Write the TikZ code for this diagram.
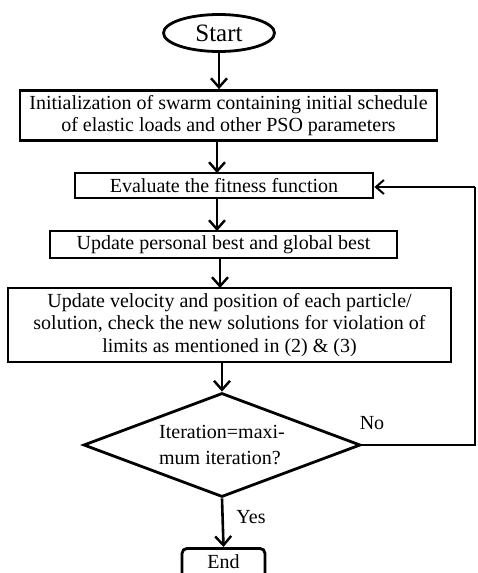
\documentclass[tikz,border=0pt]{standalone}
\usepackage{fontspec}
\setmainfont{Liberation Serif}
\usetikzlibrary{shapes.geometric,arrows.meta}
\begin{document}
\begin{tikzpicture}[x=1pt,y=-1pt,
  procbox/.style={draw, line width=2.8pt, inner sep=0pt, align=center, font=\fontsize{20}{22.5}\selectfont},
  flow/.style={line width=2.6pt, -{Straight Barb[length=9pt,width=16pt,line width=2.4pt]}},
  back/.style={line width=1.6pt, -{Straight Barb[length=8pt,width=14pt,line width=2pt]}},
  lbl/.style={font=\fontsize{20}{22}\selectfont, inner sep=0pt}]
\useasboundingbox (0,0) rectangle (477,573);
\node[draw, ellipse, line width=2.8pt, minimum width=111pt, minimum height=37pt, inner sep=0pt, font=\fontsize{25}{28}\selectfont] (start) at (219,33) {Start};
\node[procbox, minimum width=417pt, minimum height=50pt] (b1) at (228.5,115.5) {Initialization of swarm containing initial schedule\\of elastic loads and other PSO parameters};
\node[procbox, minimum width=298pt, minimum height=25pt] (b2) at (224,185.5) {Evaluate the fitness function};
\node[procbox, minimum width=347pt, minimum height=27pt] (b3) at (223.5,244.5) {Update personal best and global best};
\node[procbox, minimum width=443pt, minimum height=74pt] (b4) at (229.5,325) {Update velocity and position of each particle/\\solution, check the new solutions for violation of\\limits as mentioned in (2) \& (3)};
\node[draw, diamond, aspect=2.66, line width=2.8pt, minimum width=277pt, minimum height=104pt, inner sep=0pt, align=left, font=\fontsize{20}{26}\selectfont] (dec) at (222,445) {Iteration=maxi-\\mum iteration?};
\node[draw, rounded corners=5pt, line width=2.8pt, minimum width=83pt, inner sep=0pt, text height=20pt, text depth=20pt, font=\fontsize{20}{22}\selectfont, anchor=north] (end) at (223.5,547) {End};
\coordinate (c1) at (475,445);
\coordinate (c2) at (475,187);
\draw[flow] (start.south) -- (start.south |- b1.north);
\draw[flow] (217,140.5) -- (217,173);
\draw[flow] (217,198) -- (217,231);
\draw[flow] (220,258) -- (220,288);
\draw[flow] (222,362) -- (dec.north);
\draw[flow] (dec.south) -- (end.north);
\draw[line width=1.6pt] (dec.east) -- (c1) -- (c2);
\draw[back] (c2) -- (b2.east |- c2);
\node[lbl] (no) at (372,423) {No};
\node[lbl] (yes) at (251,517) {Yes};
\end{tikzpicture}
\end{document}
